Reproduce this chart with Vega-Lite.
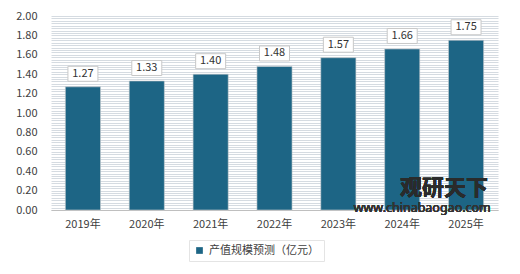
{
  "$schema": "https://vega.github.io/schema/vega-lite/v6.json",
  "width": 447,
  "height": 194,
  "autosize": {"type": "none"},
  "padding": {"left": 51, "top": 16, "right": 22, "bottom": 64},
  "background": "white",
  "config": {
    "font": "Noto Sans CJK SC",
    "view": {"stroke": null},
    "axis": {"labelFont": "Noto Sans CJK SC", "labelFontSize": 11, "labelColor": "#404040"}
  },
  "data": {
    "values": [
      {"year": "2019年", "value": 1.27},
      {"year": "2020年", "value": 1.33},
      {"year": "2021年", "value": 1.40},
      {"year": "2022年", "value": 1.48},
      {"year": "2023年", "value": 1.57},
      {"year": "2024年", "value": 1.66},
      {"year": "2025年", "value": 1.75}
    ]
  },
  "encoding": {
    "x": {
      "field": "year", "type": "ordinal", "sort": null, "title": null,
      "scale": {"paddingInner": 0.45, "paddingOuter": 0.225},
      "axis": {"labelAngle": 0, "ticks": false, "tickSize": 0, "labelPadding": 8, "domain": true, "domainColor": "#bfbfbf", "grid": false}
    }
  },
  "layer": [
    {
      "mark": {"type": "point", "opacity": 0},
      "encoding": {
        "y": {
          "field": "value", "type": "quantitative", "title": null,
          "scale": {"domain": [0, 2], "nice": false},
          "axis": {
            "orient": "right",
            "values": [0,0.025,0.05,0.075,0.1,0.125,0.15,0.175,0.2,0.225,0.25,0.275,0.3,0.325,0.35,0.375,0.4,0.425,0.45,0.475,0.5,0.525,0.55,0.575,0.6,0.625,0.65,0.675,0.7,0.725,0.75,0.775,0.8,0.825,0.85,0.875,0.9,0.925,0.95,0.975,1,1.025,1.05,1.075,1.1,1.125,1.15,1.175,1.2,1.225,1.25,1.275,1.3,1.325,1.35,1.375,1.4,1.425,1.45,1.475,1.5,1.525,1.55,1.575,1.6,1.625,1.65,1.675,1.7,1.725,1.75,1.775,1.8,1.825,1.85,1.875,1.9,1.925,1.95,1.975,2],
            "labels": false, "ticks": false, "domain": false,
            "grid": true, "gridColor": "#d5dbe1", "gridWidth": 1
          }
        }
      }
    },
    {
      "encoding": {
        "y": {
          "field": "value", "type": "quantitative", "title": null,
          "scale": {"domain": [0, 2], "nice": false},
          "axis": {
            "orient": "left",
            "values": [0, 0.2, 0.4, 0.6, 0.8, 1.0, 1.2, 1.4, 1.6, 1.8, 2.0],
            "format": ".2f",
            "ticks": false, "tickSize": 0, "labelPadding": 14, "domain": false, "grid": false
          }
        }
      },
      "layer": [
        {
          "mark": {"type": "bar", "stroke": "#c9ccd0", "strokeWidth": 0.6},
          "encoding": {
            "color": {
              "datum": "产值规模预测（亿元）",
              "scale": {"range": ["#1d6585"]},
              "legend": {
                "title": null, "orient": "none", "legendX": 138, "legendY": 224,
                "symbolType": "square", "symbolSize": 45, "symbolStrokeWidth": 0,
                "labelFont": "Noto Sans CJK SC", "labelFontSize": 11, "labelColor": "#404040",
                "fillColor": "white", "strokeColor": "#e4e4e4", "padding": 5
              }
            }
          }
        },
        {
          "mark": {"type": "point", "shape": "M-1,-0.5H1V0.5H-1Z", "size": 900, "filled": true, "fill": "white", "stroke": "#c8c8c8", "strokeWidth": 1, "opacity": 1, "yOffset": -13}
        },
        {
          "mark": {"type": "text", "dy": -13, "fontSize": 11, "color": "#333333", "font": "Noto Sans CJK SC"},
          "encoding": {"text": {"field": "value", "type": "quantitative", "format": ".2f"}}
        },
        {
          "mark": {"type": "text", "text": "观研天下", "fontSize": 22, "fontWeight": "bold", "color": "#2b2b2b", "opacity": 0.85, "dx": -22, "dy": -3, "font": "Noto Sans CJK SC"},
          "encoding": {"x": {"datum": "2025年"}, "y": {"datum": 0.2}}
        },
        {
          "mark": {"type": "text", "text": "www.chinabaogao.com", "fontSize": 12.5, "color": "#333333", "opacity": 0.85, "dx": 20, "dy": -2, "font": "Noto Sans"},
          "encoding": {"x": {"datum": "2024年"}, "y": {"datum": 0.0}}
        }
      ]
    }
  ],
  "resolve": {"axis": {"y": "independent"}}
}
